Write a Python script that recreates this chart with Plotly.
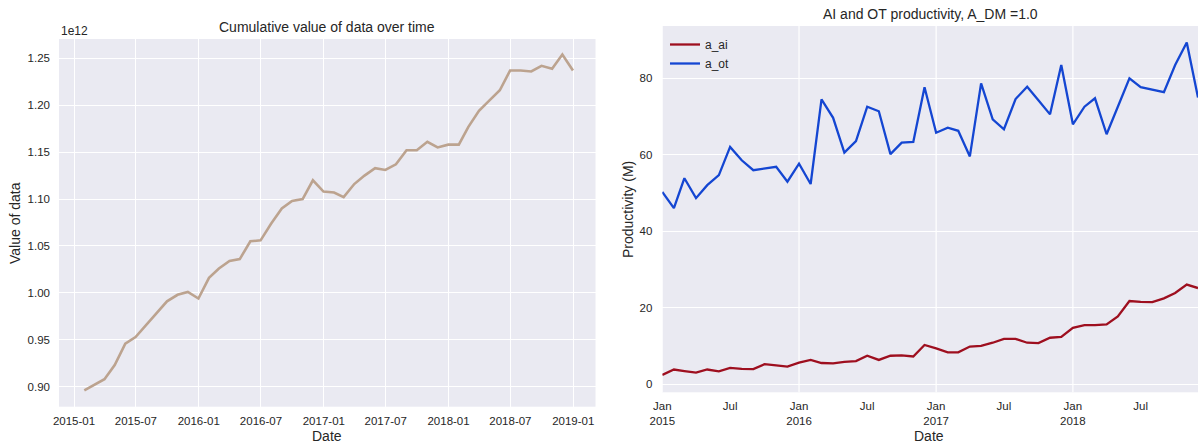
import plotly.graph_objects as go
import pandas as pd

# ---------------- data ----------------
# month-end dates for the cumulative value series
value_dates = [d.strftime("%Y-%m-%d") for d in pd.date_range("2015-01-31", periods=48, freq="ME")]
value_of_data_e12 = [
    0.896, 0.902, 0.908, 0.923, 0.946, 0.953, 0.966, 0.978, 0.991, 0.998, 1.001, 0.994,
    1.016, 1.026, 1.034, 1.036, 1.055, 1.056, 1.074, 1.090, 1.098, 1.100, 1.120, 1.108,
    1.107, 1.102, 1.116, 1.125, 1.133, 1.131, 1.137, 1.152, 1.152, 1.161, 1.155, 1.158,
    1.158, 1.177, 1.194, 1.205, 1.216, 1.237, 1.237, 1.236, 1.242, 1.239, 1.254, 1.237,
]
SCALE = 1e12

prod_dates = [d.strftime("%Y-%m-%d") for d in pd.date_range("2015-01-01", periods=48, freq="MS")]
a_ai = [
    2.5, 3.9, 3.5, 3.1, 3.9, 3.4, 4.3, 4.05, 4.0, 5.3, 5.0, 4.65,
    5.7, 6.4, 5.6, 5.5, 5.9, 6.1, 7.5, 6.4, 7.5, 7.6, 7.3, 10.3,
    9.4, 8.4, 8.4, 9.9, 10.1, 10.9, 11.9, 11.9, 10.9, 10.8, 12.2, 12.4,
    14.8, 15.5, 15.5, 15.7, 17.8, 21.8, 21.6, 21.5, 22.5, 23.9, 26.1, 25.2,
]
a_ot = [
    50.3, 46.1, 53.9, 48.7, 52.1, 54.7, 62.1, 58.6, 56.0, 56.5, 56.9, 53.0,
    57.7, 52.4, 74.5, 69.7, 60.6, 63.6, 72.6, 71.4, 60.2, 63.2, 63.4, 77.7,
    65.8, 67.1, 66.3, 59.6, 78.7, 69.3, 66.7, 74.6, 77.8, 74.3, 70.6, 83.5,
    68.0, 72.6, 74.8, 65.4, 72.8, 80.0, 77.7, 77.1, 76.4, 83.5, 89.4, 75.0,
]

left_xtick_vals = ["2015-01-01", "2015-07-01", "2016-01-01", "2016-07-01", "2017-01-01",
                   "2017-07-01", "2018-01-01", "2018-07-01", "2019-01-01"]
left_xtick_text = ["2015-01", "2015-07", "2016-01", "2016-07", "2017-01",
                   "2017-07", "2018-01", "2018-07", "2019-01"]
left_ytick_vals = [0.90, 0.95, 1.00, 1.05, 1.10, 1.15, 1.20, 1.25]
left_ytick_text = ["0.90", "0.95", "1.00", "1.05", "1.10", "1.15", "1.20", "1.25"]

right_xtick_vals = ["2015-01-01", "2015-07-01", "2016-01-01", "2016-07-01",
                    "2017-01-01", "2017-07-01", "2018-01-01", "2018-07-01"]
right_xtick_text = ["Jan<br>2015", "Jul", "Jan<br>2016", "Jul",
                    "Jan<br>2017", "Jul", "Jan<br>2018", "Jul"]
right_major_grid = ["2015-01-01", "2016-01-01", "2017-01-01", "2018-01-01"]
right_ytick_vals = [0, 20, 40, 60, 80]

# ---------------- style ----------------
W, H = 1198, 443
FONT = "Liberation Sans, Arial, sans-serif"
TXT = "#262626"
BG = "#EAEAF2"
C_VALUE = "#bca38f"
C_AI = "#9e0f1f"
C_OT = "#1446d2"


def px_x(p):
    return p / W


def px_y(p):
    return 1 - p / H


fig = go.Figure()
fig.add_trace(go.Scatter(x=value_dates, y=[v * SCALE for v in value_of_data_e12],
                         mode="lines", line=dict(color=C_VALUE, width=2.6),
                         xaxis="x", yaxis="y", showlegend=False))
fig.add_trace(go.Scatter(x=prod_dates, y=a_ai, mode="lines", name="a_ai",
                         line=dict(color=C_AI, width=2.3), xaxis="x2", yaxis="y2"))
fig.add_trace(go.Scatter(x=prod_dates, y=a_ot, mode="lines", name="a_ot",
                         line=dict(color=C_OT, width=2.3), xaxis="x2", yaxis="y2"))

tickfont = dict(family=FONT, size=11.5, color=TXT)
common_axis = dict(showline=False, zeroline=False, gridcolor="white", gridwidth=1.2,
                   tickfont=tickfont, ticks="", fixedrange=True, automargin=False)

fig.update_layout(
    width=W, height=H, margin=dict(l=0, r=0, t=0, b=0, autoexpand=False),
    paper_bgcolor="white", plot_bgcolor=BG,
    font=dict(family=FONT, color=TXT),
    xaxis=dict(domain=[px_x(59), px_x(595.5)], type="date",
               range=["2014-11-18", "2019-03-07"],
               tickmode="array", tickvals=left_xtick_vals, ticktext=left_xtick_text,
               showgrid=True, anchor="y", ticklabelstandoff=6, **common_axis),
    yaxis=dict(domain=[px_y(406.7), px_y(39)],
               range=[0.8787 * SCALE, 1.2706 * SCALE],
               tickmode="array", tickvals=[v * SCALE for v in left_ytick_vals],
               ticktext=left_ytick_text, showgrid=True, anchor="x",
               ticklabelstandoff=8, **common_axis),
    xaxis2=dict(domain=[px_x(662.3), 1.0], type="date",
                range=[prod_dates[0], prod_dates[-1]],
                tickmode="array", tickvals=right_xtick_vals, ticktext=right_xtick_text,
                showgrid=False, anchor="y2", ticklabelstandoff=5, **common_axis),
    yaxis2=dict(domain=[px_y(392.3), px_y(26)], range=[-2.06, 93.7],
                tickmode="array", tickvals=right_ytick_vals,
                showgrid=True, anchor="x2", ticklabelstandoff=9, **common_axis),
    legend=dict(x=px_x(665), y=px_y(30), xanchor="left", yanchor="top",
                bgcolor="rgba(0,0,0,0)", borderwidth=0,
                font=dict(family=FONT, size=12, color=TXT), itemwidth=30),
    showlegend=True,
)

# vertical gridlines for the major (January) ticks of the right panel
for d in right_major_grid:
    fig.add_shape(type="line", xref="x2", yref="y2 domain", x0=d, x1=d, y0=0, y1=1,
                  line=dict(color="white", width=1.2), layer="below")

ann_font = dict(family=FONT, size=14, color=TXT)
annotations = [
    dict(text="Cumulative value of data over time", x=px_x(327), y=px_y(27)),
    dict(text="AI and OT productivity, A_DM =1.0", x=px_x(930), y=px_y(14)),
    dict(text="Date", x=px_x(327), y=px_y(436)),
    dict(text="Date", x=px_x(929), y=px_y(436)),
    dict(text="Value of data", x=px_x(15), y=px_y(223), textangle=-90),
    dict(text="Productivity (M)", x=px_x(628), y=px_y(210), textangle=-90),
]
for a in annotations:
    fig.add_annotation(xref="paper", yref="paper", showarrow=False,
                       xanchor="center", yanchor="middle", font=ann_font, **a)
fig.add_annotation(text="1e12", xref="paper", yref="paper", x=px_x(59), y=px_y(31),
                   xanchor="left", yanchor="middle", showarrow=False,
                   font=dict(family=FONT, size=12, color=TXT))

fig.write_html("out.html")
